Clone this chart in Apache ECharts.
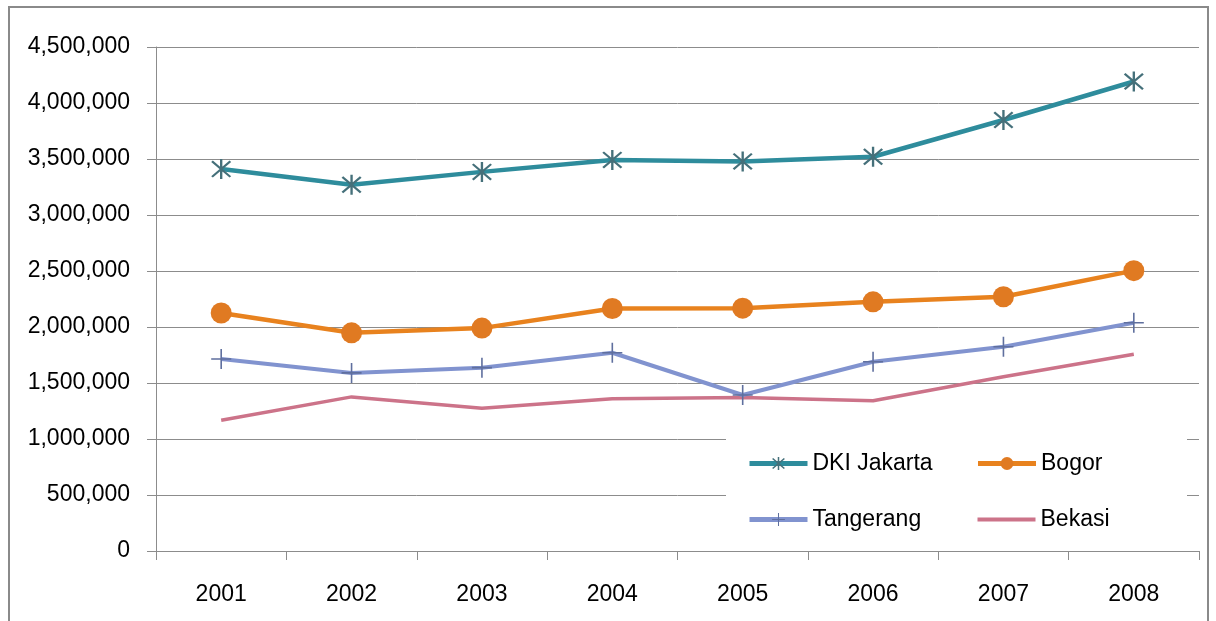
<!DOCTYPE html>
<html>
<head>
<meta charset="utf-8">
<script src="https://cdn.jsdelivr.net/npm/echarts@6/dist/echarts.min.js"></script>
<style>
  html, body { margin: 0; padding: 0; background: #ffffff; }
  #chart { width: 1216px; height: 621px; }
</style>
</head>
<body>
<div id="chart"></div>
<script>
// Years on the category axis
const years = ['2001', '2002', '2003', '2004', '2005', '2006', '2007', '2008'];

// Yearly values per region
const jakarta   = [3410000, 3270000, 3385000, 3492000, 3478000, 3520000, 3848000, 4192000];
const bogor     = [2125000, 1948000, 1990000, 2165000, 2168000, 2225000, 2270000, 2503000];
const tangerang = [1714000, 1590000, 1637000, 1770000, 1393000, 1690000, 1824000, 2038000];
const bekasi    = [1168000, 1376000, 1274000, 1360000, 1370000, 1342000, 1556000, 1756000];

// Series names, in legend order
const names = ['DKI Jakarta', 'Bogor', 'Tangerang', 'Bekasi'];

// Marker shapes: asterisk (X with a vertical bar) and plus
const asterisk = 'path://M9 0h2v20h-2z M1.5 2.9L2.9 1.5L18.5 17.1L17.1 18.5z M17.1 1.5L18.5 2.9L2.9 18.5L1.5 17.1z';
const plus = 'path://M9.2 0h1.6v20h-1.6z M0 9.2h20v1.6h-20z';

const font = '"Liberation Sans", Arial, sans-serif';

const chart = echarts.init(document.getElementById('chart'), null, { renderer: 'canvas' });

chart.setOption({
  animation: false,
  backgroundColor: '#ffffff',
  textStyle: { fontFamily: font },
  graphic: [{
    type: 'rect',
    shape: { x: 9, y: 7, width: 1199, height: 640 },
    style: { fill: 'none', stroke: '#8a8a8a', lineWidth: 2 },
    silent: true,
    z: 100
  }],
  grid: { left: 156, right: 17, top: 47, bottom: 70 },
  legend: {
    data: [
      { name: names[0], lineStyle: { width: 5 } },
      { name: names[1], lineStyle: { width: 5 } },
      { name: names[2], lineStyle: { width: 5 } },
      { name: names[3], lineStyle: { width: 4 }, itemStyle: { opacity: 0 } }
    ],
    left: 726,
    top: 432,
    width: 432,
    orient: 'horizontal',
    backgroundColor: '#ffffff',
    padding: [20, 16, 12, 21],
    itemGap: 33,
    itemWidth: 58,
    itemHeight: 16,
    textStyle: { fontFamily: font, fontSize: 23, color: '#000000', width: 130, lineHeight: 16 },
    z: 5
  },
  xAxis: {
    type: 'category',
    data: years,
    boundaryGap: true,
    axisLine: { show: true, lineStyle: { color: '#8c8c8c', width: 1 } },
    axisTick: { show: true, length: 9, inside: false, lineStyle: { color: '#8c8c8c' } },
    axisLabel: { fontFamily: font, fontSize: 23, color: '#000000', margin: 32 },
    splitLine: { show: false }
  },
  yAxis: {
    type: 'value',
    min: 0,
    max: 4500000,
    interval: 500000,
    axisLine: { show: true, lineStyle: { color: '#8c8c8c', width: 1 } },
    axisTick: { show: true, length: 9, lineStyle: { color: '#8c8c8c' } },
    axisLabel: {
      fontFamily: font, fontSize: 23, color: '#000000', margin: 26,
      formatter: v => v.toLocaleString('en-US')
    },
    splitLine: { show: true, lineStyle: { color: '#8c8c8c', width: 1 } }
  },
  series: [
    {
      name: names[0], type: 'line', data: jakarta,
      symbol: asterisk, symbolSize: 20, showAllSymbol: true,
      lineStyle: { color: '#2e8c9c', width: 4.5 },
      itemStyle: { color: '#45707a' },
      z: 4
    },
    {
      name: names[1], type: 'line', data: bogor,
      symbol: 'circle', symbolSize: 21,
      lineStyle: { color: '#e8821e', width: 4.5 },
      itemStyle: { color: '#e07a22' },
      z: 3
    },
    {
      name: names[2], type: 'line', data: tangerang,
      symbol: plus, symbolSize: 20,
      lineStyle: { color: '#8193cf', width: 4 },
      itemStyle: { color: '#5f6f9e' },
      z: 2
    },
    {
      name: names[3], type: 'line', data: bekasi,
      symbol: 'none',
      lineStyle: { color: '#cc7389', width: 3.5 },
      itemStyle: { color: '#cc7389' },
      z: 1
    }
  ]
});
</script>
</body>
</html>
